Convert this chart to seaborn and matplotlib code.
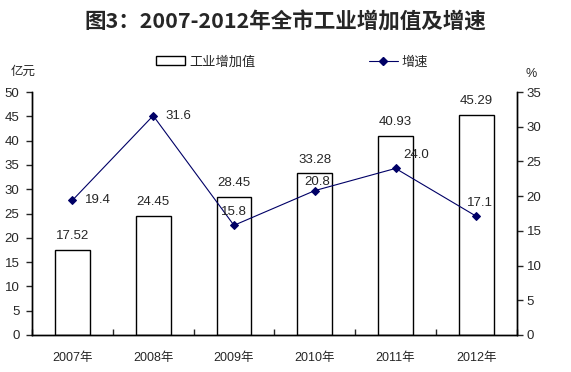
import matplotlib
matplotlib.use("Agg")
import matplotlib.pyplot as plt
from matplotlib.lines import Line2D
from matplotlib.patches import Patch
import seaborn as sns
import numpy as np

# 数据
years = ["2007年", "2008年", "2009年", "2010年", "2011年", "2012年"]
value = [17.52, 24.45, 28.45, 33.28, 40.93, 45.29]   # 工业增加值 (亿元)
growth = [19.4, 31.6, 15.8, 20.8, 24.0, 17.1]        # 增速 (%)

sns.set_style("white")
plt.rcParams['font.family'] = ['Liberation Sans', 'Noto Sans CJK SC', 'DejaVu Sans']

fig = plt.figure(figsize=(5.71, 3.72), dpi=100)
ax = fig.add_axes([0.056, 0.0995, 0.849, 0.653])

sns.barplot(x=years, y=value, color="white", edgecolor="black", linewidth=1,
            width=0.43, saturation=1, ax=ax)
ax.set_ylim(0, 50)
ax.set_xlim(-0.5, 5.5)
ax.set_yticks(range(0, 51, 5))
ax.set_xlabel("")
ax.set_ylabel("")
for i, v in enumerate(value):
    ax.text(i, v + 1.6, f"{v:.2f}", ha="center", va="bottom", fontsize=9.5)

ax2 = ax.twinx()
sns.lineplot(x=np.arange(len(years)), y=growth, ax=ax2, color="#000066",
             linewidth=0.8, marker="D", markersize=4.5, markeredgecolor="#000066")
ax2.set_ylim(0, 35)
ax2.set_yticks(range(0, 36, 5))
ax2.set_xlim(-0.5, 5.5)

# 标签位置 (x偏移, y偏移, 对齐)
offsets = [(0.16, 0, "left"), (0.15, 0, "left"), (0.0, 1.9, "center"),
           (0.03, 1.2, "center"), (0.26, 1.9, "center"), (0.04, 1.9, "center")]
for i, g in enumerate(growth):
    dx, dy, ha = offsets[i]
    ax2.text(i + dx, g + dy, f"{g:.1f}", ha=ha, va="center", fontsize=9.5)

for a in (ax, ax2):
    a.spines["top"].set_visible(False)
    for s in ("left", "right", "bottom"):
        a.spines[s].set_color("black")
        a.spines[s].set_linewidth(1)
ax.tick_params(axis="y", direction="out", length=4, width=1, labelsize=9.5, left=True, pad=5)
ax2.tick_params(axis="y", direction="out", length=4, width=1, labelsize=9.5, right=True, pad=3)
ax.tick_params(axis="x", length=0, labelsize=9, pad=12)
ax.set_xticks(np.arange(-0.5, 6, 1), minor=True)
ax.tick_params(axis="x", which="minor", direction="in", length=4, width=1, bottom=True)

fig.text(0.5, 0.941, "图3：2007-2012年全市工业增加值及增速", ha="center", va="center",
         fontsize=15.5, fontweight="bold", family=["Noto Sans CJK SC"])
fig.text(0.04, 0.806, "亿元", ha="center", va="center", fontsize=9)
fig.text(0.93, 0.8, "%", ha="center", va="center", fontsize=9)

handles = [Patch(facecolor="white", edgecolor="black", label="工业增加值"),
           Line2D([0], [0], color="#000066", marker="D", markersize=4, lw=0.8, label="增速")]
fig.legend(handles=handles, loc="center", bbox_to_anchor=(0.512, 0.833), ncol=2,
           frameon=False, fontsize=9.5, columnspacing=8.6, handlelength=2.2, handletextpad=0.3)

fig.savefig("out.png", dpi=100)
